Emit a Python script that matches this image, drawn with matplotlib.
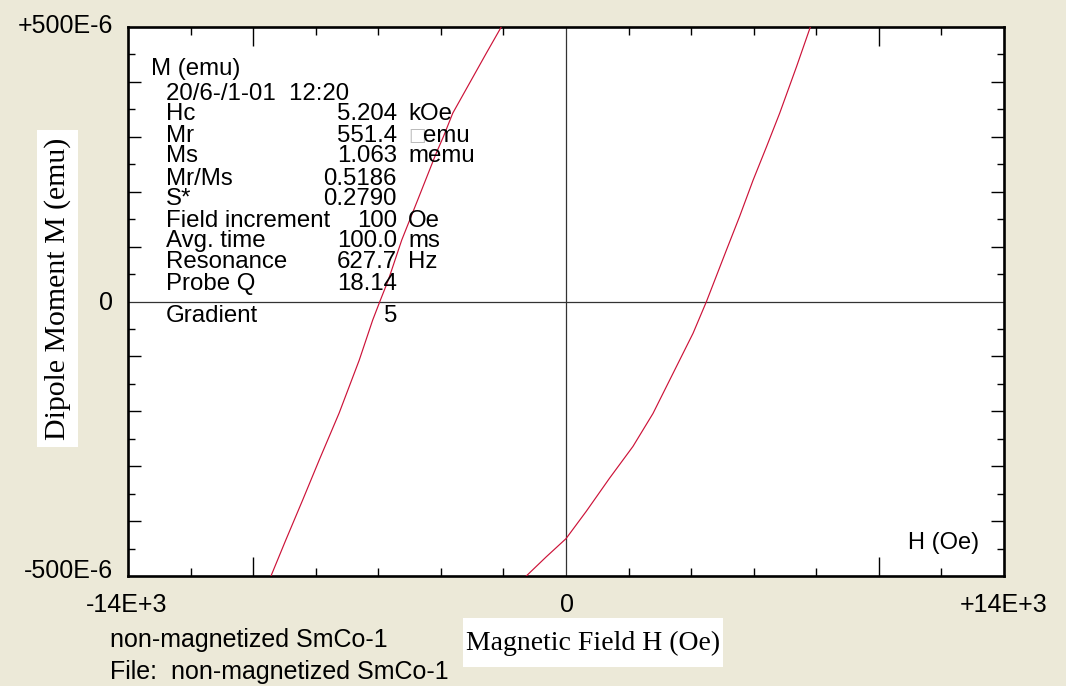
import matplotlib
matplotlib.use("Agg")
import matplotlib.pyplot as plt
from matplotlib.patches import Rectangle

# ---------------- data ----------------
# descending branch (left)
desc_H = [-2070, -2550, -3620, -3920, -4150, -4740, -5250, -5680, -5950,
          -6180, -6610, -7250, -7890, -8420, -8960, -9430]
desc_M_u = [500, 452, 343, 300, 270, 185, 112, 39, 0,
            -34, -107, -203, -289, -362, -435, -500]
# ascending branch (right)
asc_H = [-1270, -630, 0, 650, 1390, 2140, 2780, 3420, 4060, 4490,
         5130, 5550, 5980, 6410, 6830, 7370, 7810]
asc_M_u = [-500, -465, -432, -382, -322, -264, -204, -131, -58, 0,
           94, 155, 221, 282, 343, 428, 500]

x_limits = (-14000, 14000)
y_limits = (-500e-6, 500e-6)
x_major = [-10000, 10000]
x_minor = [-12000, -8000, -6000, -4000, -2000, 2000, 4000, 6000, 8000, 12000]
y_major = [-400e-6, -300e-6, -200e-6, -100e-6, 100e-6, 200e-6, 300e-6, 400e-6]
y_minor = [-450e-6, -350e-6, -250e-6, -150e-6, -50e-6, 50e-6, 150e-6, 250e-6, 350e-6, 450e-6]

x_tick_labels = ["-14E+3", "0", "+14E+3"]
y_tick_labels = ["+500E-6", "0", "-500E-6"]

info_title = "M (emu)"
info_date = "20/6-/1-01  12:20"
info_names = ["Hc", "Mr", "Ms", "Mr/Ms", "S*", "Field increment", "Avg. time",
              "Resonance", "Probe Q", "Gradient"]
info_values = ["5.204", "551.4", "1.063", "0.5186", "0.2790", "100", "100.0",
               "627.7", "18.14", "5"]
info_units = ["kOe", "\u25a1emu", "memu", "", "", "Oe", "ms", "Hz", "", ""]

sample_name = "non-magnetized SmCo-1"
file_name = "File:  non-magnetized SmCo-1"
x_label = "Magnetic Field H (Oe)"
y_label = "Dipole Moment M (emu)"
axis_unit = "H (Oe)"

# ---------------- figure ----------------
W, H = 1066, 686
DPI = 100
BG = "#ECE9D8"
fig = plt.figure(figsize=(W / DPI, H / DPI), dpi=DPI, facecolor=BG)

def fx(x):
    return x / W

def fy(y):
    return 1 - y / H

L, R, T, B = 128, 1004, 27, 576
ax = fig.add_axes([fx(L), fy(B), (R - L) / W, (B - T) / H])
ax.set_facecolor("white")
ax.set_xlim(*x_limits)
ax.set_ylim(*y_limits)

for s in ax.spines.values():
    s.set_linewidth(1.9)
    s.set_color("black")

ax.axhline(0, color="#333333", lw=0.9, zorder=1)
ax.axvline(0, color="#333333", lw=0.9, zorder=1)

red = "#CC1238"
ax.plot(desc_H, [m * 1e-6 for m in desc_M_u], color=red, lw=0.85, zorder=3)
ax.plot(asc_H, [m * 1e-6 for m in asc_M_u], color=red, lw=0.85, zorder=3)

ax.set_xticks(x_major)
ax.set_xticks(x_minor, minor=True)
ax.set_yticks(y_major)
ax.set_yticks(y_minor, minor=True)
ax.tick_params(axis="x", which="major", direction="in", length=13.5, width=1.0,
               top=True, bottom=True, labelbottom=False, color="black")
ax.tick_params(axis="x", which="minor", direction="in", length=5.8, width=1.0,
               top=True, bottom=True, labelbottom=False, color="black")
ax.tick_params(axis="y", which="major", direction="in", length=9.4, width=1.0,
               left=True, right=True, labelleft=False, color="black")
ax.tick_params(axis="y", which="minor", direction="in", length=5.0, width=1.0,
               left=True, right=True, labelleft=False, color="black")

SANS = ["Liberation Sans", "DejaVu Sans"]
SERIF = ["Liberation Serif", "DejaVu Serif"]

def t(x, y, s, ha="left", va="baseline", size=18, family=SANS, **kw):
    fig.text(fx(x), fy(y), s, ha=ha, va=va, fontsize=size, family=family, **kw)

# axis end labels
t(113, 33, y_tick_labels[0], ha="right")
t(113, 310, y_tick_labels[1], ha="right")
t(113, 578, y_tick_labels[2], ha="right")
t(127, 612, x_tick_labels[0], ha="center")
t(567, 612, x_tick_labels[1], ha="center")
t(1004, 612, x_tick_labels[2], ha="center")

t(110, 647, sample_name)
t(110, 679, file_name)
t(979, 549, axis_unit, ha="right", size=17)

# info block
ISZ = 17.3
t(151, 75, info_title, size=ISZ)
t(166, 100, info_date, size=ISZ)
base_y = [120, 142, 162, 185, 205, 227, 247, 268, 290, 322]
for yb, name, val, unit in zip(base_y, info_names, info_values, info_units):
    t(166, yb, name, size=ISZ)
    t(397, yb, val, ha="right", size=ISZ)
    if unit:
        if unit.startswith("\u25a1"):
            t(408, yb - 1, "\u25a1", size=ISZ - 4, color="#bbbbbb", family=["DejaVu Sans"])
            t(423, yb, unit[1:], size=ISZ)
        else:
            t(408, yb, unit, size=ISZ)

# axis titles with white boxes
fig.patches.append(Rectangle((fx(37), fy(447)), (78 - 37) / W, (447 - 130) / H,
                             transform=fig.transFigure, facecolor="white",
                             edgecolor="none", zorder=0))
t(58, 288.5, y_label, ha="center", va="center", size=21.5, family=SERIF, rotation=90)

fig.patches.append(Rectangle((fx(463), fy(667)), (723 - 463) / W, (667 - 618) / H,
                             transform=fig.transFigure, facecolor="white",
                             edgecolor="none", zorder=0))
t(593, 643, x_label, ha="center", va="center", size=20, family=SERIF)

fig.savefig("out.png", dpi=DPI, facecolor=BG)
